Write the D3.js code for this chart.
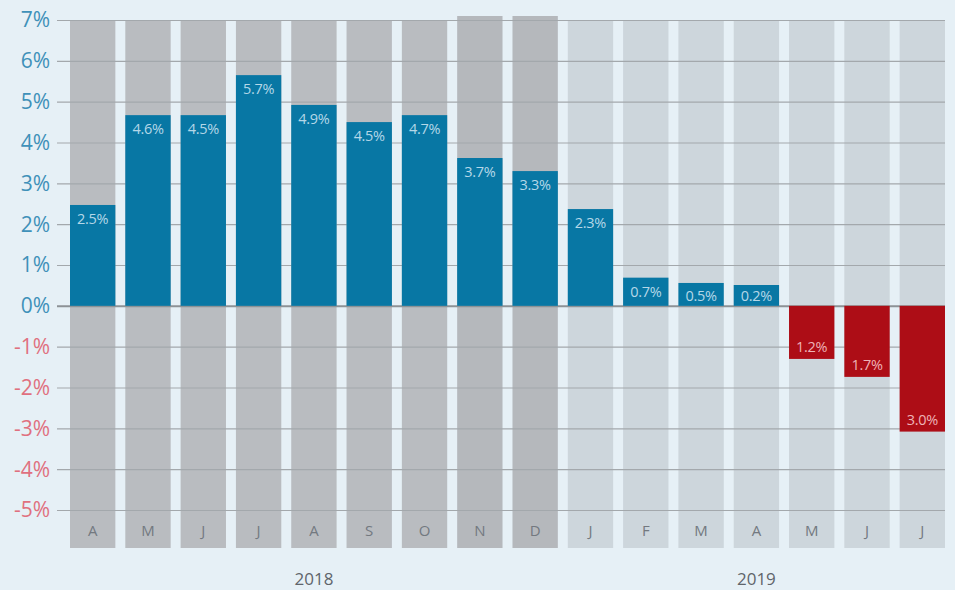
<!DOCTYPE html>
<html>
<head>
<meta charset="utf-8">
<script src="https://cdn.jsdelivr.net/npm/d3@7"></script>
<style>
  body { margin: 0; background: #e6f0f6; }
  svg { display: block; font-family: "Open Sans", sans-serif; }
</style>
</head>
<body>
<div id="chart"></div>
<script>
// months from April 2018 to July 2019
var months = ["A", "M", "J", "J", "A", "S", "O", "N", "D", "J", "F", "M", "A", "M", "J", "J"];
var years = ["2018", "2018", "2018", "2018", "2018", "2018", "2018", "2018", "2018",
             "2019", "2019", "2019", "2019", "2019", "2019", "2019"];
// bar heights as drawn, and the labels printed on them
var values = [2.47, 4.67, 4.67, 5.65, 4.92, 4.5, 4.67, 3.62, 3.3,
              2.37, 0.69, 0.56, 0.51, -1.3, -1.74, -3.08];
var valueLabels = ["2.5%", "4.6%", "4.5%", "5.7%", "4.9%", "4.5%", "4.7%", "3.7%", "3.3%",
                   "2.3%", "0.7%", "0.5%", "0.2%", "1.2%", "1.7%", "3.0%"];
var yTicks = [7, 6, 5, 4, 3, 2, 1, 0, -1, -2, -3, -4, -5];

var width = 955;
var height = 590;

var svg = d3.select("#chart")
            .append("svg")
            .attr("width", width)
            .attr("height", height);

svg.append("rect")
   .attr("width", width)
   .attr("height", height)
   .attr("fill", "#e6f0f6");

var x = d3.scaleBand()
          .domain(d3.range(months.length))
          .range([70, 945])
          .paddingInner(0.18)
          .paddingOuter(0);

var y = d3.scaleLinear()
          .domain([-5, 7])
          .range([510, 20]);

var colBottom = 548;
// N and D columns stand a little taller and darker
var isRaised = i => i === 7 || i === 8;
var colTop = i => isRaised(i) ? y(7) - 4 : y(7);

// background columns
svg.append("g")
   .selectAll("rect")
   .data(months)
   .enter()
   .append("rect")
   .attr("x", (d, i) => x(i))
   .attr("width", x.bandwidth())
   .attr("y", (d, i) => colTop(i))
   .attr("height", (d, i) => colBottom - colTop(i))
   .attr("fill", (d, i) => years[i] === "2019" ? "#cdd6dc" : isRaised(i) ? "#b5b8bc" : "#b9bcc0");

// gridlines
svg.append("g")
   .selectAll("line")
   .data(yTicks)
   .enter()
   .append("line")
   .attr("x1", 57)
   .attr("x2", 945)
   .attr("y1", d => y(d) + 0.5)
   .attr("y2", d => y(d) + 0.5)
   .attr("stroke", d => d === 0 ? "#8d9296" : "#a3a8ac")
   .attr("stroke-width", d => d === 0 ? 2 : 1.2);

// y tick labels
svg.append("g")
   .selectAll("text")
   .data(yTicks)
   .enter()
   .append("text")
   .attr("x", 50)
   .attr("y", d => y(d))
   .attr("dy", "0.35em")
   .attr("text-anchor", "end")
   .attr("font-size", 21)
   .attr("fill", d => d < 0 ? "#e0707f" : "#3f91b9")
   .text(d => d + "%");

// bars
svg.append("g")
   .selectAll("rect")
   .data(values)
   .enter()
   .append("rect")
   .attr("x", (d, i) => x(i))
   .attr("width", x.bandwidth())
   .attr("y", d => y(Math.max(0, d)))
   .attr("height", d => Math.abs(y(d) - y(0)))
   .attr("fill", d => d < 0 ? "#ad0d16" : "#0877a4");

// value labels inside bars
svg.append("g")
   .selectAll("text")
   .data(values)
   .enter()
   .append("text")
   .attr("x", (d, i) => x(i) + x.bandwidth() / 2)
   .attr("y", d => d < 0 ? y(d) - 12 : Math.min(y(d) + 14, y(0) - 10))
   .attr("dy", "0.35em")
   .attr("text-anchor", "middle")
   .attr("font-size", 14.5)
   .attr("letter-spacing", "-0.3px")
   .attr("fill", d => d < 0 ? "#eeb3b6" : "#b5d7e8")
   .text((d, i) => valueLabels[i]);

// month labels
svg.append("g")
   .selectAll("text")
   .data(months)
   .enter()
   .append("text")
   .attr("x", (d, i) => x(i) + x.bandwidth() / 2)
   .attr("y", 531)
   .attr("dy", "0.35em")
   .attr("text-anchor", "middle")
   .attr("font-size", 15)
   .attr("fill", "#737980")
   .text(d => d);

// year labels
var yearGroups = d3.groups(d3.range(months.length), i => years[i]);
svg.append("g")
   .selectAll("text")
   .data(yearGroups)
   .enter()
   .append("text")
   .attr("x", d => (x(d[1][0]) + x(d[1][d[1].length - 1]) + x.bandwidth()) / 2)
   .attr("y", 579)
   .attr("dy", "0.35em")
   .attr("text-anchor", "middle")
   .attr("font-size", 17)
   .attr("fill", "#5f656b")
   .text(d => d[0]);
</script>
</body>
</html>
